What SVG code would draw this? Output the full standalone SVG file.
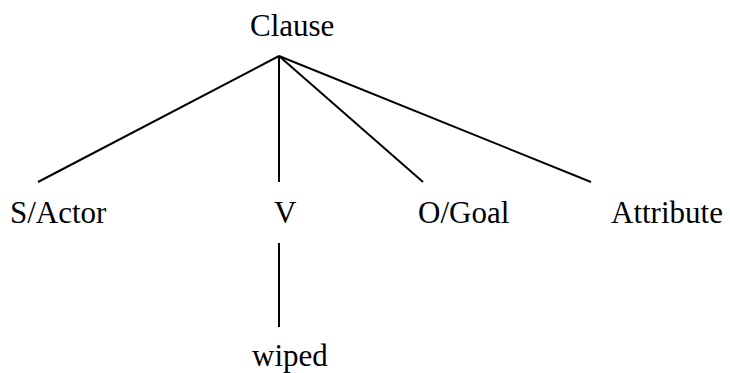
<svg xmlns="http://www.w3.org/2000/svg" width="730" height="373" viewBox="0 0 730 373">
<style>
text{font-family:"Liberation Serif","Times New Roman",serif;font-size:31px;fill:#000}
.c line{stroke:#000;stroke-width:2;stroke-linecap:butt}
</style>
<rect width="730" height="373" fill="#fff"/>
<g class="c" id="connectors">
<line x1="279" y1="56" x2="38" y2="182"/>
<line x1="279" y1="56" x2="279" y2="182"/>
<line x1="279" y1="56" x2="423" y2="182"/>
<line x1="279" y1="56" x2="591" y2="182"/>
<line x1="279" y1="243" x2="279" y2="327"/>
</g>
<g id="clause"><text x="250" y="36">Clause</text></g>
<g id="sactor"><text x="10" y="223">S/Actor</text></g>
<g id="v"><text x="274" y="223">V</text></g>
<g id="ogoal"><text x="418" y="223">O/Goal</text></g>
<g id="attribute"><text x="611" y="223">Attribute</text></g>
<g id="wiped"><text x="252" y="366">wiped</text></g>
</svg>
